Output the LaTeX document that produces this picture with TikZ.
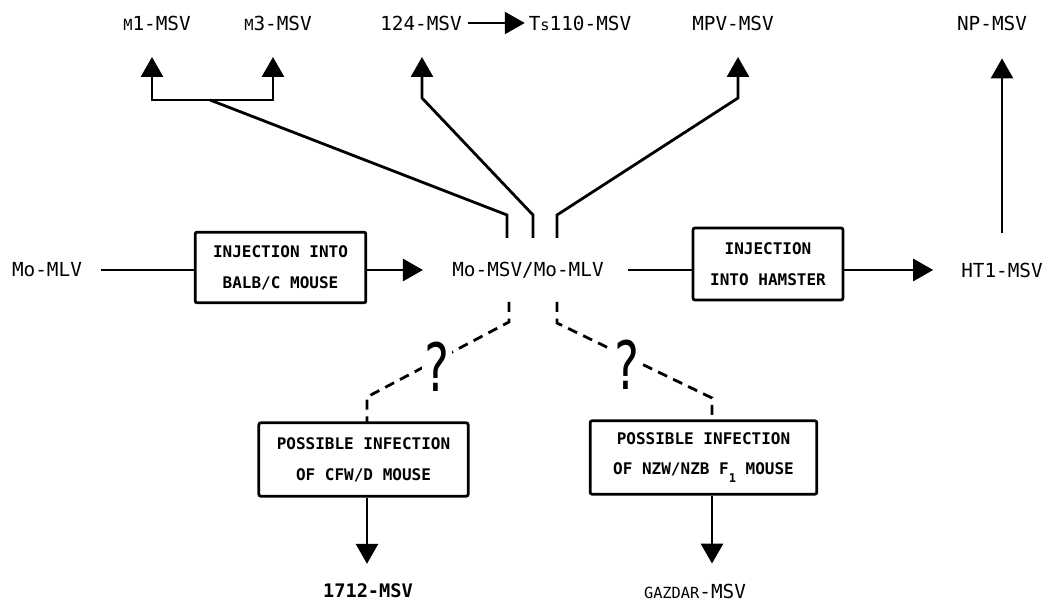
\documentclass[tikz,border=0pt]{standalone}
\usepackage{fontspec}
\usepackage{graphicx}
\setmonofont{DejaVu Sans Mono}
\usetikzlibrary{arrows.meta}
\begin{document}
\begin{tikzpicture}[x=0.75pt,y=-0.75pt,line width=2.1pt,
  lbl/.style={font=\ttfamily\fontsize{14.5}{17}\selectfont,inner sep=0pt},
  boxnode/.style={draw,line width=2.1pt,rounded corners=1.5pt,align=center,
    font=\ttfamily\bfseries\fontsize{12}{23}\selectfont},
  arr/.style={-{Triangle[length=15pt,width=16.5pt]}},
  dsh/.style={dash pattern=on 7.5pt off 5pt},
  qm/.style={fill=white,inner sep=0.5pt,font=\ttfamily\fontsize{50}{50}\selectfont}]
\useasboundingbox (0,0) rectangle (1046,605);
\newcommand{\sm}[1]{{\fontsize{11.5}{12}\selectfont #1}}
% top labels
\node[lbl] (m1) at (157,23) {\sm{M}1-MSV};
\node[lbl] (m3) at (278,23) {\sm{M}3-MSV};
\node[lbl] (v124) at (421,23) {124-MSV};
\node[lbl] (ts) at (580,23) {T\sm{s}110-MSV};
\node[lbl] (mpv) at (733,23) {MPV-MSV};
\node[lbl] (np) at (992,23) {NP-MSV};
% middle row
\node[lbl] (momlv) at (47,270) {Mo-MLV};
\node[boxnode,minimum width=128pt,minimum height=53pt] (box1) at (280.5,267.5) {INJECTION INTO\\BALB/C MOUSE};
\node[lbl] (mid) at (528,270) {Mo-MSV/Mo-MLV};
\node[boxnode,minimum width=112.5pt,minimum height=54pt] (box2) at (768,264) {INJECTION\\INTO HAMSTER};
\node[lbl] (ht1) at (1002,270) {HT1-MSV};
% lower boxes
\node[boxnode,minimum width=157pt,minimum height=55pt] (box3) at (363.5,459.5) {POSSIBLE INFECTION\\OF CFW/D MOUSE};
\node[boxnode,minimum width=170pt,minimum height=55pt] (box4) at (703.5,457.5) {POSSIBLE INFECTION\\OF NZW/NZB F\raisebox{-6pt}{\fontsize{9}{9}\selectfont 1} MOUSE};
\node[lbl,font=\ttfamily\bfseries\fontsize{14}{17}\selectfont] (v1712) at (368,591) {1712-MSV};
\node[lbl] (gaz) at (695,591) {\sm{GAZDAR}-MSV};
% top connectors
\coordinate (j) at (210,100);
\coordinate (m1a) at (152,57);
\coordinate (m3a) at (273,57);
\coordinate (a124) at (422,57);
\coordinate (ampv) at (738,57);
\coordinate (c1) at (507,238);
\coordinate (c2) at (533,238);
\coordinate (c3) at (557,238);
\draw[arr] (j) -| (m1a);
\draw[arr] (j) -| (m3a);
\draw (j) -- (507,215) -- (c1);
\draw[arr] (c2) -- (533,215) -- (422,98) -- (a124);
\draw[arr] (c3) -- (557,215) -- (738,98) -- (ampv);
\draw[arr,shorten <=4pt,shorten >=2pt] (v124.east) -- (ts.west);
% middle row connectors
\draw[shorten <=13pt] (momlv.east) -- (momlv.east -| box1.west);
\draw[arr,shorten >=21pt] (box1.east |- mid.west) -- (mid.west);
\draw[shorten <=17pt] (mid.east) -- (mid.east -| box2.west);
\draw[arr,shorten >=20pt] (box2.east |- ht1.west) -- (ht1.west);
\draw[arr,shorten <=21pt,shorten >=20pt] (ht1.north) -- (ht1.north |- np.south);
% dashed possible infections
\coordinate (d1) at (509,302);
\coordinate (d2) at (557,302);
\draw[dsh] (d1) -- (509,322) -- (367,397) -- (367,423);
\draw[dsh] (d2) -- (557,323) -- (712,398) -- (712,421);
\node[qm] (q1) at (437,367) {\scalebox{0.7}[1]{?}};
\node[qm] (q2) at (627,365) {\scalebox{0.7}[1]{?}};
% bottom arrows
\draw[arr,shorten >=14pt] (box3.south -| 367,0) -- (v1712.north -| 367,0);
\draw[arr,shorten >=14pt] (box4.south -| 712,0) -- (gaz.north -| 712,0);
\end{tikzpicture}
\end{document}
